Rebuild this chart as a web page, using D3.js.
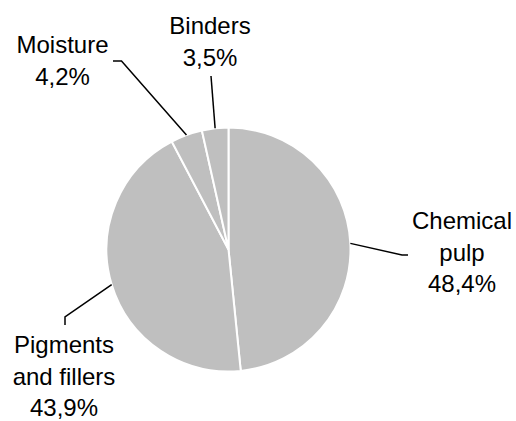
<!DOCTYPE html>
<html><head><meta charset="utf-8">
<script src="https://cdn.jsdelivr.net/npm/d3@7"></script>
<style>body{margin:0;background:#fff}svg{display:block}</style>
</head><body>
<script>
const categories = ["Chemical pulp", "Pigments and fillers", "Moisture", "Binders"];
const labelLines = [["Chemical", "pulp"], ["Pigments", "and fillers"], ["Moisture"], ["Binders"]];
const values = [48.4, 43.9, 4.2, 3.5];
const valueLabels = ["48,4%", "43,9%", "4,2%", "3,5%"];

const W = 516, H = 421;
const cx = 228.5, cy = 249.5, R = 122;

const svg = d3.select("body").append("svg").attr("width", W).attr("height", H);
const g = svg.append("g").attr("transform", `translate(${cx},${cy})`);

const data = categories.map((c, i) => ({ name: c, value: values[i], i }));
const pie = d3.pie().value(d => d.value).sort(null);
const arc = d3.arc().innerRadius(0).outerRadius(R);
const arcs = pie(data);

g.selectAll("path.slice").data(arcs).enter().append("path")
  .attr("class", "slice")
  .attr("d", arc)
  .attr("fill", "#bfbfbf")
  .attr("stroke", "#fff")
  .attr("stroke-width", 2);

// label positions (anchor center x, first baseline y) and leader elbows
const labelPos = [
  { x: 462, y: 229, elbow: [402, 255], end: [408, 255] },
  { x: 64, y: 353, elbow: [65, 317], end: [65, 325] },
  { x: 62.5, y: 53, elbow: [121.5, 61], end: [113, 61] },
  { x: 210, y: 34, elbow: [211, 76], end: null }
];

const lineH = 31.5;
arcs.forEach((a, k) => {
  const p = labelPos[k];
  const mid = (a.startAngle + a.endAngle) / 2;
  const sx = cx + Math.sin(mid) * R, sy = cy - Math.cos(mid) * R;
  const pts = [[sx, sy], p.elbow];
  if (p.end) pts.push(p.end);
  svg.append("path")
    .attr("d", d3.line()(pts))
    .attr("fill", "none").attr("stroke", "#000").attr("stroke-width", 1.5);
  const lines = labelLines[k].concat([valueLabels[k]]);
  const t = svg.append("text")
    .attr("x", p.x).attr("y", p.y)
    .attr("text-anchor", "middle")
    .attr("font-family", "Liberation Sans, Arial, sans-serif")
    .attr("font-size", 24)
    .attr("fill", "#000");
  lines.forEach((ln, j) => {
    t.append("tspan").attr("x", p.x).attr("dy", j === 0 ? 0 : lineH).text(ln);
  });
});
</script>
</body></html>
